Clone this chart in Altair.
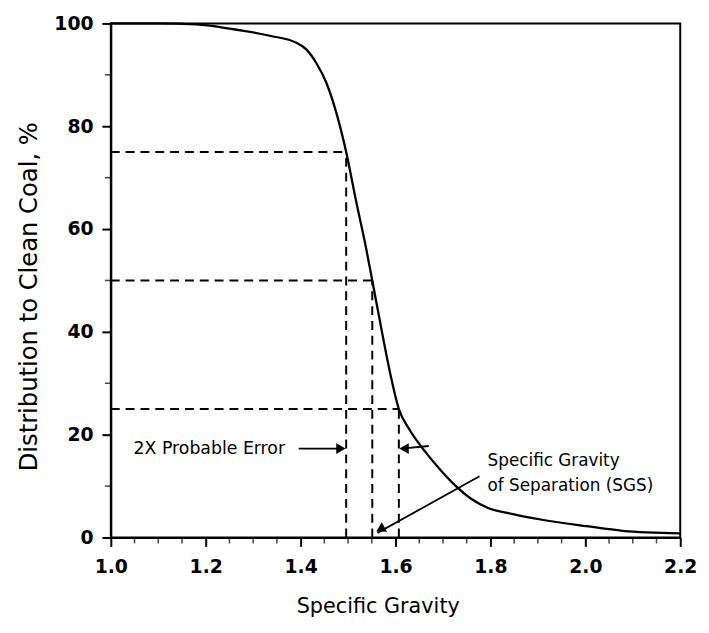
import altair as alt
import pandas as pd

# Partition curve
sg = [1.0, 1.1, 1.18, 1.25, 1.335, 1.392, 1.4125, 1.433, 1.454, 1.475, 1.496, 1.517,
      1.5375, 1.551, 1.572, 1.59, 1.607, 1.628, 1.6625, 1.697, 1.725, 1.76, 1.794,
      1.85, 1.906, 2.003, 2.079, 2.2]
dist = [100, 100, 99.8, 99, 97.6, 96.2, 94.9, 92.3, 88.5, 82.7, 75, 65.4,
        56.5, 50, 39.7, 31.4, 25, 21.2, 16.7, 12.9, 10.2, 7.5, 5.8,
        4.5, 3.5, 2.2, 1.3, 0.8]

# Reading levels (75 / 50 / 25 %)
level_sg = [1.496, 1.551, 1.607]
level_pct = [75, 50, 25]

# Ticks
x_major = [1.0, 1.2, 1.4, 1.6, 1.8, 2.0, 2.2]
x_minor = [1.05, 1.1, 1.15, 1.25, 1.3, 1.35, 1.45, 1.5, 1.55, 1.65, 1.7, 1.75,
           1.85, 1.9, 1.95, 2.05, 2.1, 2.15]
y_major = [0, 20, 40, 60, 80, 100]
y_minor = [10, 30, 50, 70, 90]

# Annotation arrows
arrow_x1 = [1.396, 1.67, 1.777]
arrow_y1 = [17.3, 17.8, 11.9]
arrow_x2 = [1.49, 1.612, 1.562]
arrow_y2 = [17.3, 17.3, 0.9]
head_x = [1.485, 1.618, 1.568]
head_y = [17.3, 17.3, 1.6]
head_angle = [90, 270, 241]

# Annotation texts
label_text = ["2X Probable Error", "Specific Gravity", "of Separation (SGS)"]
label_x = [1.048, 1.794, 1.794]
label_y = [17.3, 14.8, 10.0]
label_size = [17.5, 17, 17]

curve = pd.DataFrame({"sg": sg, "dist": dist})
levels = pd.DataFrame({"sg": level_sg, "pct": level_pct, "x0": [1.0] * 3, "y0": [0] * 3})
arrows = pd.DataFrame({"x1": arrow_x1, "y1": arrow_y1, "x2": arrow_x2, "y2": arrow_y2})
heads = pd.DataFrame({"x": head_x, "y": head_y, "angle": head_angle})
labels = pd.DataFrame({"t": label_text, "x": label_x, "y": label_y, "s": label_size})
xminor_df = pd.DataFrame({"v": x_minor})
yminor_df = pd.DataFrame({"v": y_minor})

FONT = "DejaVu Sans"
xs = alt.Scale(domain=[1.0, 2.2], nice=False, zero=False)
ys = alt.Scale(domain=[0, 100], nice=False, zero=False)

x_axis = alt.Axis(values=x_major, format=".1f", orient="bottom", grid=False,
                  tickSize=9, tickWidth=2, tickColor="black", domainWidth=2, domainColor="black",
                  labelFont=FONT, labelFontSize=19, labelFontWeight="bold", labelColor="black",
                  labelPadding=11, labelFlush=False,
                  title="Specific Gravity", titleFont=FONT, titleFontSize=21,
                  titleFontWeight="normal", titleColor="black", titlePadding=20, titleX=270)
y_axis = alt.Axis(values=y_major, format="d", orient="left", grid=False,
                  tickSize=9, tickWidth=2, tickColor="black", domainWidth=2, domainColor="black",
                  labelFont=FONT, labelFontSize=19, labelFontWeight="bold", labelColor="black",
                  labelPadding=9,
                  title="Distribution to Clean Coal, %", titleFont=FONT, titleFontSize=24.5,
                  titleFontWeight="normal", titleColor="black", titlePadding=13, titleY=276)

line = alt.Chart(curve).mark_line(color="black", strokeWidth=2.3, interpolate="monotone").encode(
    x=alt.X("sg:Q", scale=xs, axis=x_axis),
    y=alt.Y("dist:Q", scale=ys, axis=y_axis),
)

# minor ticks drawn as tick marks hanging outside the frame
xminor = alt.Chart(xminor_df).mark_tick(color="black", thickness=1.6, size=6, yOffset=3,
                                        clip=False, orient="vertical").encode(
    x=alt.X("v:Q", scale=xs, axis=None),
    y=alt.value(520),
)
yminor = alt.Chart(yminor_df).mark_tick(color="black", thickness=1.6, size=6, xOffset=-3,
                                        clip=False, orient="horizontal").encode(
    y=alt.Y("v:Q", scale=ys, axis=None),
    x=alt.value(0),
)

hdash = alt.Chart(levels).mark_rule(color="black", strokeWidth=2, strokeDash=[9, 6]).encode(
    x=alt.X("x0:Q", scale=xs, axis=None), x2="sg:Q",
    y=alt.Y("pct:Q", scale=ys, axis=None),
)
vdash = alt.Chart(levels).mark_rule(color="black", strokeWidth=2, strokeDash=[9, 6]).encode(
    x=alt.X("sg:Q", scale=xs, axis=None),
    y=alt.Y("y0:Q", scale=ys, axis=None), y2="pct:Q",
)

shafts = alt.Chart(arrows).mark_rule(color="black", strokeWidth=1.8).encode(
    x=alt.X("x1:Q", scale=xs, axis=None), x2="x2:Q",
    y=alt.Y("y1:Q", scale=ys, axis=None), y2="y2:Q",
)
tips = alt.Chart(heads).mark_point(shape="triangle-up", filled=True, color="black",
                                   opacity=1, size=120).encode(
    x=alt.X("x:Q", scale=xs, axis=None),
    y=alt.Y("y:Q", scale=ys, axis=None),
    angle=alt.Angle("angle:Q", scale=None),
)

texts = alt.Chart(labels).mark_text(align="left", baseline="middle", font=FONT,
                                    color="black").encode(
    x=alt.X("x:Q", scale=xs, axis=None),
    y=alt.Y("y:Q", scale=ys, axis=None),
    text="t:N",
    size=alt.Size("s:Q", scale=None),
)

chart = alt.layer(line, xminor, yminor, hdash, vdash, shafts, tips, texts).resolve_axis(
    x="independent", y="independent"
).properties(
    width=576, height=520,
    background="white",
    autosize=alt.AutoSizeParams(type="none"),
    padding={"left": 104, "top": 12, "right": 21, "bottom": 93},
).configure_view(stroke="black", strokeWidth=2)

chart.save("out.html", embed_options={"renderer": "svg", "actions": False})
